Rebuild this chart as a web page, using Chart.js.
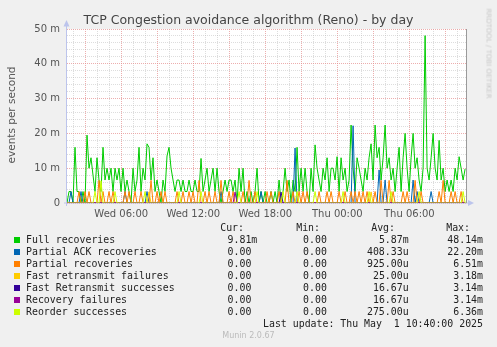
<!DOCTYPE html>
<html><head><meta charset="utf-8">
<script src="https://cdn.jsdelivr.net/npm/chart.js@4.4.1/dist/chart.umd.min.js"></script>
<style>
html,body{margin:0;padding:0;background:#f0f0f0;width:497px;height:347px;overflow:hidden;}
#wrap{position:relative;width:497px;height:347px;}
canvas{position:absolute;left:0;top:0;}
.t{position:absolute;white-space:pre;font-family:"DejaVu Sans";}
.m{position:absolute;white-space:pre;font-family:"DejaVu Sans Mono";font-size:9.9px;line-height:12px;height:12px;color:#222;}
.sq{position:absolute;width:6px;height:6px;}
</style></head>
<body><div id="wrap"><canvas id="c" width="497" height="347"></canvas></div>
<script>
// ---- time axis (hours since Wed 00:00), one sample per 10 minutes ----
const X_MIN = 1.48, X_MAX = 34.72, START = 1.48, STEP = 1/6;
const gridHours = [2,3,4,5,6,7,8,9,10,11,12,13,14,15,16,17,18,19,20,21,22,23,24,25,26,27,28,29,30,31,32,33,34];
const tickHours = [6,12,18,24,30];
const tickLabels = ['Wed 06:00','Wed 12:00','Wed 18:00','Thu 00:00','Thu 06:00'];
const yTickValues = [0,10,20,30,40,50];
const yTickLabels = ['0','10 m','20 m','30 m','40 m','50 m'];

// ---- series values (milli-events per second) ----
const fullRecoveries = [
 0,3.3,3.3,0,16,3.3,3.3,0,3.3,0,
 19.5,10,13,8,3.3,13,6.6,3.3,16,6.6,
 10,6.6,10,3.3,10,6.6,10,3.3,10,3.3,
 6.6,3.3,0,10,3.3,6.6,16,3.3,10,6.6,
 17,16,6.6,13,3.3,6.6,3.3,0,6.6,3.3,
 13.5,16,10,6.6,3.3,6.6,6.6,3.3,6.6,3.3,
 3.3,6.6,3.3,3.3,6.6,3.3,3.3,12.8,3.3,6.6,
 10,3.3,6.6,10,3.3,10,3.3,0,3.3,6.6,
 3.3,6.6,6.6,3.3,6.6,0,10,3.3,10,0,
 3.3,0,3.3,0,3.3,10,0,3.3,0,3.3,
 0,0,3.3,0,3.3,0,6.6,0,3.3,10,
 3.3,6.6,0,6.6,3.3,16,3.3,10,3.3,10,
 3.3,0,10,3.3,16.7,10,6.6,3.3,10,6.6,
 13,3.3,10,10,6.6,13.3,3.3,13,6.6,10,
 3.3,6.6,22.4,10,3.3,13,10,6.6,3.3,10,
 6.6,13,17,6.6,22.4,13,16,6.6,13,22.4,
 10,13,6.6,10,3.3,10,16,3.3,13,20,
 10,3.3,13,20,10,13,6.6,3.3,10,48.1,
 10,6.6,13,20,10,6.6,18,6.6,10,3.3,
 6.6,3.3,6.6,3.3,10,6.6,13.3,10,6.6,9.8
];
// sparse series: sample index and value (all other samples are 0)
const partialAckIdx = [2,7,29,40,77,97,114,143,156,159,173,175,182];
const partialAckVal = [3.3,3.3,3.3,3.3,3.3,3.3,15.8,22.2,9.5,6.6,6.6,3.3,3.3];
const partialRecIdx = [6,9,11,16,18,21,23,29,31,34,37,42,45,47,49,55,58,61,63,66,69,71,74,77,81,83,88,91,94,100,102,106,110,113,116,118,120,126,130,132,136,139,142,144,146,148,150,154,157,161,163,168,170,174,177,186,188,192,194,197];
const partialRecVal = [3.3,3.3,3.3,6.5,3.3,3.3,3.3,3.3,3.3,3.3,3.3,6.5,3.3,3.3,3.3,3.3,3.3,3.3,3.3,6.5,3.3,3.3,3.3,6.5,3.3,3.3,3.3,6.5,3.3,3.3,3.3,3.3,6.5,3.3,3.3,3.3,3.3,3.3,3.3,3.3,3.3,3.3,3.3,3.3,3.3,3.3,3.3,3.3,6.5,6.5,3.3,3.3,3.3,6.5,3.3,3.3,6.5,3.3,3.3,3.3];
const fastRetFailIdx = [41,152];
const fastRetFailVal = [3.2,3.2];
const fastRetSuccIdx = [107];
const fastRetSuccVal = [3.14];
const recFailIdx = [84];
const recFailVal = [3.14];
const reorderIdx = [14,17,24,39,56,67,86,95,108,115,124,138,151,162,176,198];
const reorderVal = [3.3,6.4,3.3,3.3,3.3,3.3,3.3,3.3,3.3,3.3,3.3,3.3,3.3,3.3,3.3,3.3];

// ---- legend ----
const seriesNames = ['Full recoveries','Partial ACK recoveries','Partial recoveries','Fast retransmit failures','Fast Retransmit successes','Recovery failures','Reorder successes'];
const seriesColors = ['#00CC00','#0066B3','#FF8000','#FFCC00','#330099','#990099','#CCFF00'];
const curVals = ['9.81m','0.00 ','0.00 ','0.00 ','0.00 ','0.00 ','0.00 '];
const minVals = ['0.00 ','0.00 ','0.00 ','0.00 ','0.00 ','0.00 ','0.00 '];
const avgVals = ['5.87m','408.33u','925.00u','25.00u','16.67u','16.67u','275.00u'];
const maxVals = ['48.14m','22.20m','6.51m','3.18m','3.14m','3.14m','6.36m'];

const N = fullRecoveries.length;
const times = fullRecoveries.map((_, i) => START + i * STEP);
function sparse(idx, val){ const a = new Array(N).fill(0); idx.forEach((k, j) => { a[k] = val[j]; }); return a; }
const seriesValues = [
  fullRecoveries,
  sparse(partialAckIdx, partialAckVal),
  sparse(partialRecIdx, partialRecVal),
  sparse(fastRetFailIdx, fastRetFailVal),
  sparse(fastRetSuccIdx, fastRetSuccVal),
  sparse(recFailIdx, recFailVal),
  sparse(reorderIdx, reorderVal)
];
const datasets = seriesValues.map((vals, s) => ({
  label: seriesNames[s],
  data: vals.map((v, i) => ({x: times[i], y: v})),
  borderColor: seriesColors[s],
  backgroundColor: seriesColors[s],
  borderWidth: 1,
  pointRadius: 0,
  tension: 0,
  fill: false,
  order: 7 - s
}));

const MAJOR = 'rgba(230,140,140,0.7)';
const MINOR = 'rgba(180,180,180,0.45)';
const AXIS = '#bcc4ec';

const frame = {
  id: 'frame',
  beforeDraw(chart){
    const {ctx, chartArea: a} = chart;
    ctx.save();
    ctx.fillStyle = '#ffffff';
    ctx.fillRect(a.left, a.top, a.right - a.left, a.bottom - a.top);
    ctx.restore();
  },
  beforeDatasetsDraw(chart){
    const {ctx, chartArea: a} = chart;
    ctx.save();
    ctx.lineWidth = 1;
    ctx.strokeStyle = AXIS; ctx.fillStyle = AXIS;
    ctx.beginPath(); ctx.moveTo(a.left - 0.5, a.top - 4); ctx.lineTo(a.left - 0.5, a.bottom + 3); ctx.stroke();
    ctx.beginPath(); ctx.moveTo(a.left - 0.5, a.top - 9); ctx.lineTo(a.left - 3.5, a.top - 2.5); ctx.lineTo(a.left + 2.5, a.top - 2.5); ctx.closePath(); ctx.fill();
    ctx.beginPath(); ctx.moveTo(a.left - 3, a.bottom); ctx.lineTo(a.right + 3, a.bottom); ctx.stroke();
    ctx.beginPath(); ctx.moveTo(a.right + 8, a.bottom); ctx.lineTo(a.right + 2, a.bottom - 3); ctx.lineTo(a.right + 2, a.bottom + 3); ctx.closePath(); ctx.fill();
    ctx.strokeStyle = '#9a9a9a';
    ctx.beginPath(); ctx.moveTo(a.right + 0.5, a.top); ctx.lineTo(a.right + 0.5, a.bottom); ctx.stroke();
    ctx.restore();
  }
};

new Chart(document.getElementById('c'), {
  type: 'line',
  data: { datasets },
  options: {
    responsive: false, animation: false, devicePixelRatio: 1,
    layout: { padding: { left: 7, right: 31, top: 29, bottom: 124 } },
    plugins: { legend: { display: false }, tooltip: { enabled: false }, title: { display: false } },
    scales: {
      x: {
        type: 'linear', min: X_MIN, max: X_MAX,
        afterBuildTicks: s => { s.ticks = gridHours.map(v => ({value: v})); },
        afterFit: s => { s.height = 20; },
        grid: { color: c => (c.tick && c.tick.value % 3 === 0) ? MAJOR : MINOR, drawTicks: false, lineWidth: 1 },
        border: { display: false, dash: [1, 1] },
        ticks: {
          autoSkip: false, maxRotation: 0, minRotation: 0, padding: 5,
          font: { family: 'DejaVu Sans', size: 10 }, color: '#555',
          callback: v => { const k = tickHours.indexOf(v); return k >= 0 ? tickLabels[k] : ''; }
        }
      },
      y: {
        min: 0, max: 50,
        afterFit: s => { s.width = 60; },
        grid: { color: c => (c.tick && c.tick.value % 10 === 0) ? MAJOR : MINOR, drawTicks: false, lineWidth: 1 },
        border: { display: false, dash: [1, 1] },
        ticks: {
          stepSize: 2, autoSkip: false, padding: 7,
          font: { family: 'DejaVu Sans', size: 10 }, color: '#555',
          callback: v => { const k = yTickValues.indexOf(v); return k >= 0 ? yTickLabels[k] : ''; }
        }
      }
    }
  },
  plugins: [frame]
});

// ---- text overlays ----
const wrap = document.getElementById('wrap');
function add(cls, text, style){ const d = document.createElement('div'); d.className = cls; d.textContent = text; Object.assign(d.style, style); wrap.appendChild(d); return d; }
add('t', 'TCP Congestion avoidance algorithm (Reno) - by day', {left:'0px', width:'497px', textAlign:'center', top:'11.5px', fontSize:'12.5px', lineHeight:'15px', color:'#444'});
add('t', 'events per second', {left:'-64px', width:'150px', textAlign:'center', top:'108.5px', fontSize:'10.5px', lineHeight:'12px', color:'#555', transform:'rotate(-90deg)'});
add('t', 'RRDTOOL / TOBI OETIKER', {left:'438.3px', width:'100px', textAlign:'center', top:'49px', fontSize:'7px', lineHeight:'9px', color:'#c8c8c8', transform:'rotate(90deg)'});
const hdrTop = 221.9, rowTop = 233.9, pitch = 12;
['Cur:','Min:','Avg:','Max:'].forEach((h, k) => add('m', h, {left: [220.2, 296.2, 371.2, 446.2][k] + 'px', top: hdrTop + 'px'}));
seriesNames.forEach((name, r) => {
  const top = rowTop + r * pitch;
  const sq = document.createElement('div'); sq.className = 'sq';
  Object.assign(sq.style, {left:'14px', top:(top + 2.8) + 'px', background: seriesColors[r]}); wrap.appendChild(sq);
  add('m', name, {left:'26px', top: top + 'px'});
  add('m', curVals[r], {right:(497 - 257.3) + 'px', top: top + 'px'});
  add('m', minVals[r], {right:(497 - 332.8) + 'px', top: top + 'px'});
  add('m', avgVals[r], {right:(497 - 408.6) + 'px', top: top + 'px'});
  add('m', maxVals[r], {right:(497 - 483) + 'px', top: top + 'px'});
});
add('m', 'Last update: Thu May  1 10:40:00 2025', {right:(497 - 483) + 'px', top:'317.9px'});
add('t', 'Munin 2.0.67', {left:'0px', width:'497px', textAlign:'center', top:'331px', fontSize:'8px', lineHeight:'10px', color:'#bbb'});
</script>
</body></html>
